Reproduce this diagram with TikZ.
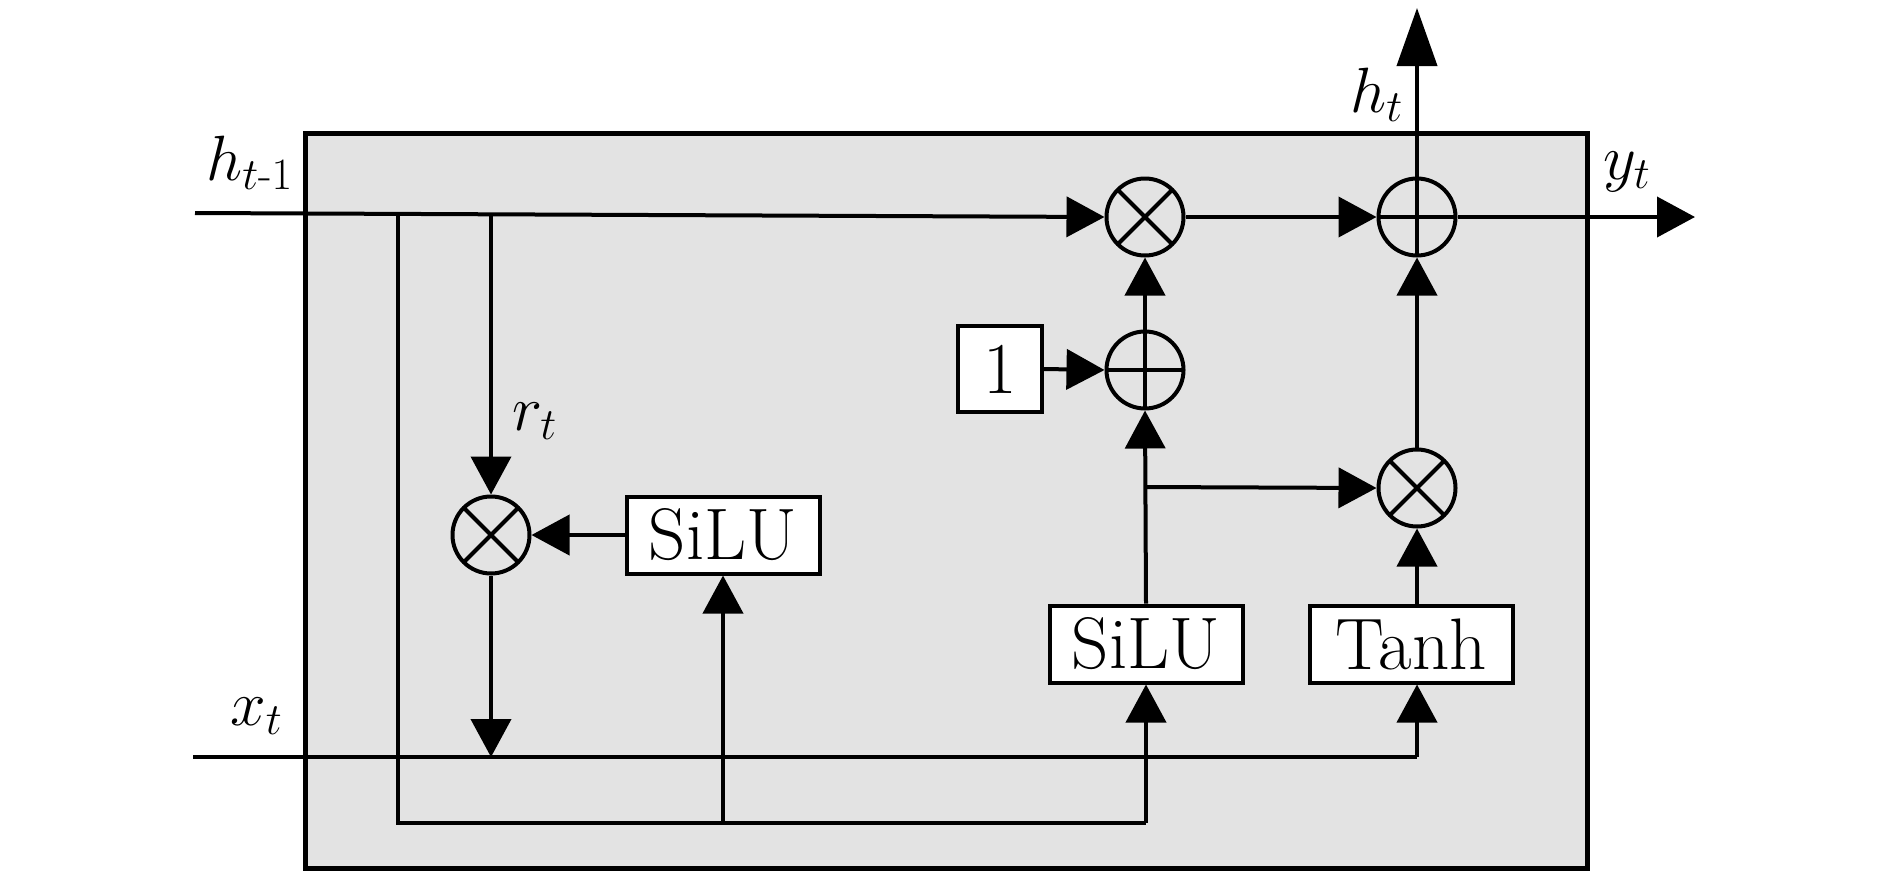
\RequirePackage{fix-cm}
\documentclass[tikz,border=0pt]{standalone}
\usepackage{amsmath}
\usetikzlibrary{arrows.meta}
\definecolor{bgc}{RGB}{227,227,227}
\tikzset{
  wire/.style={line width=4pt},
  arr/.style={wire,-{Triangle[length=38pt,width=40pt]}},
  longarr/.style={wire,-{Triangle[length=58pt,width=40pt]}},
  opc/.style={circle,draw,line width=4pt,minimum size=77pt,inner sep=0pt},
  mult/.style={opc,path picture={\draw[line width=4pt]
      (path picture bounding box.north west)--(path picture bounding box.south east)
      (path picture bounding box.north east)--(path picture bounding box.south west);}},
  addc/.style={opc,path picture={\draw[line width=4pt]
      (path picture bounding box.north)--(path picture bounding box.south)
      (path picture bounding box.west)--(path picture bounding box.east);}},
  fnbox/.style={draw,fill=white,line width=4pt,font=\fontsize{73}{80}\selectfont,
      inner sep=0pt,minimum width=193pt,minimum height=77pt},
  lbl/.style={font=\fontsize{64}{70}\selectfont,inner sep=0pt,anchor=base west}
}
\begin{document}
\begin{tikzpicture}[x=1pt,y=-1pt]
\useasboundingbox (0,0) rectangle (1890,876);
% cell background
\draw[fill=bgc,line width=5pt] (305,133) rectangle (1587,868);

% operators
\node[mult] (m1) at (1145,217) {};
\node[addc] (a1) at (1417,217) {};
\node[addc] (a2) at (1145,370) {};
\node[mult] (m2) at (1417,488) {};
\node[mult] (m3) at (491,535) {};

% function boxes
\node[fnbox,minimum width=84pt,minimum height=86pt] (one) at (1000,369) {1};
\node[fnbox] (silu1) at (723,535) {SiLU};
\node[fnbox] (silu2) at (1146,644) {SiLU};
\node[fnbox,minimum width=203pt] (tanh) at (1411,644) {Tanh};

% coordinates
\coordinate (hin) at (195,213);
\coordinate (xin) at (193,757);
\coordinate (bl) at (398,214);
\coordinate (br) at (491,214);
\coordinate (xr) at (1417,757);
\coordinate (yout) at (1695,217);
\coordinate (hout) at (1417,8);
\coordinate (bot) at (398,823);
\coordinate (silujoin) at (1145,487);

% h_{t-1} line
\draw[arr] (hin) -- (m1.west);
% left branch to bottom line
\draw[wire] (bl) -- (bot) -- (bot -| silu2.south);
\draw[arr] (bot -| silu2.south) -- (silu2.south);
\draw[arr] (bot -| silu1.south) -- (silu1.south);
% r_t branch
\draw[arr] (br) -- (m3.north);
\draw[arr] (silu1.west) -- (m3.east);
\draw[arr] (m3.south) -- (m3.south |- xin);
% x_t line
\draw[wire] (xin) -- (xr);
\draw[arr] (xr) -- (tanh.south -| xr);
% gate path
\draw[arr] (silu2.north) -- (a2.south);
\draw[arr] (silujoin) -- (m2.west);
\draw[arr] (one.east) -- (a2.west);
\draw[arr] (a2.north) -- (m1.south);
\draw[arr] (m1.east) -- (a1.west);
\draw[arr] (tanh.north -| m2.south) -- (m2.south);
\draw[arr] (m2.north) -- (a1.south);
% outputs
\draw[arr] (a1.east) -- (yout);
\draw[longarr] (a1.north) -- (hout);

% labels
\node[lbl] (lh) at (206,180) {$h_{t\text{-}1}$};
\node[lbl] (lx) at (230,725) {$x_t$};
\node[lbl] (lr) at (512,430) {$r_t$};
\node[lbl] (lht) at (1350,112) {$h_t$};
\node[lbl] (ly) at (1603,179) {$y_t$};
\end{tikzpicture}
\end{document}
